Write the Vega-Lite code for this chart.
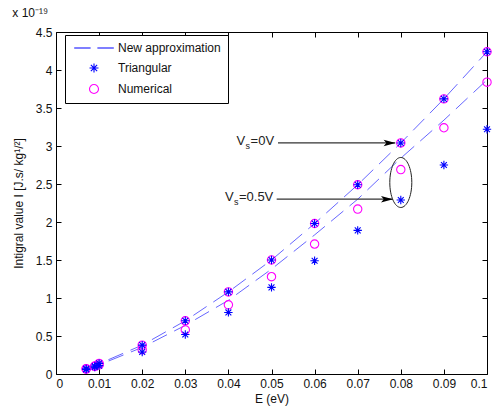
{
  "$schema": "https://vega.github.io/schema/vega-lite/v6.json",
  "width": 431,
  "height": 342,
  "autosize": {"type": "none"},
  "padding": {"left": 56, "top": 32, "right": 8, "bottom": 39},
  "background": "white",
  "config": {
    "font": "Liberation Sans",
    "view": {"stroke": "black", "strokeWidth": 1},
    "axis": {"labelFont": "Liberation Sans", "labelFontSize": 12, "labelColor": "#111", "titleFont": "Liberation Sans", "titleFontSize": 12, "titleFontWeight": "normal", "titleColor": "#111", "grid": false, "domain": false, "tickColor": "black", "tickSize": -5, "labelPadding": 9},
    "legend": {"title": null, "orient": "none", "legendX": 9, "legendY": 3, "strokeColor": "black", "fillColor": "white", "padding": 7, "labelFontSize": 12, "labelFont": "Liberation Sans", "labelColor": "#111", "symbolSize": 81, "symbolStrokeWidth": 1.1, "symbolOpacity": 1, "symbolOffset": 16, "labelOffset": 18, "rowPadding": 7, "cornerRadius": 0}
  },
  "title": {"text": "x 10⁻¹⁹", "anchor": "start", "fontSize": 12, "fontWeight": "normal", "font": "Liberation Sans", "color": "#111", "offset": 6},
  "datasets": {
    "points": [
      {"E": 0.007, "I": 0.07, "series": "Triangular"}, {"E": 0.007, "I": 0.07, "series": "Numerical"},
      {"E": 0.007, "I": 0.06, "series": "Triangular"}, {"E": 0.007, "I": 0.065, "series": "Numerical"},
      {"E": 0.009, "I": 0.105, "series": "Triangular"}, {"E": 0.009, "I": 0.105, "series": "Numerical"},
      {"E": 0.009, "I": 0.09, "series": "Triangular"}, {"E": 0.009, "I": 0.1, "series": "Numerical"},
      {"E": 0.01, "I": 0.14, "series": "Triangular"}, {"E": 0.01, "I": 0.14, "series": "Numerical"},
      {"E": 0.01, "I": 0.11, "series": "Triangular"}, {"E": 0.01, "I": 0.12, "series": "Numerical"},
      {"E": 0.02, "I": 0.38, "series": "Triangular"}, {"E": 0.02, "I": 0.38, "series": "Numerical"},
      {"E": 0.02, "I": 0.29, "series": "Triangular"}, {"E": 0.02, "I": 0.32, "series": "Numerical"},
      {"E": 0.03, "I": 0.70, "series": "Triangular"}, {"E": 0.03, "I": 0.70, "series": "Numerical"},
      {"E": 0.03, "I": 0.52, "series": "Triangular"}, {"E": 0.03, "I": 0.58, "series": "Numerical"},
      {"E": 0.04, "I": 1.08, "series": "Triangular"}, {"E": 0.04, "I": 1.08, "series": "Numerical"},
      {"E": 0.04, "I": 0.81, "series": "Triangular"}, {"E": 0.04, "I": 0.91, "series": "Numerical"},
      {"E": 0.05, "I": 1.50, "series": "Triangular"}, {"E": 0.05, "I": 1.50, "series": "Numerical"},
      {"E": 0.05, "I": 1.14, "series": "Triangular"}, {"E": 0.05, "I": 1.28, "series": "Numerical"},
      {"E": 0.06, "I": 1.98, "series": "Triangular"}, {"E": 0.06, "I": 1.98, "series": "Numerical"},
      {"E": 0.06, "I": 1.49, "series": "Triangular"}, {"E": 0.06, "I": 1.71, "series": "Numerical"},
      {"E": 0.07, "I": 2.49, "series": "Triangular"}, {"E": 0.07, "I": 2.49, "series": "Numerical"},
      {"E": 0.07, "I": 1.89, "series": "Triangular"}, {"E": 0.07, "I": 2.17, "series": "Numerical"},
      {"E": 0.08, "I": 3.04, "series": "Triangular"}, {"E": 0.08, "I": 3.04, "series": "Numerical"},
      {"E": 0.08, "I": 2.29, "series": "Triangular"}, {"E": 0.08, "I": 2.69, "series": "Numerical"},
      {"E": 0.09, "I": 3.62, "series": "Triangular"}, {"E": 0.09, "I": 3.62, "series": "Numerical"},
      {"E": 0.09, "I": 2.75, "series": "Triangular"}, {"E": 0.09, "I": 3.24, "series": "Numerical"},
      {"E": 0.1, "I": 4.24, "series": "Triangular"}, {"E": 0.1, "I": 4.24, "series": "Numerical"},
      {"E": 0.1, "I": 3.22, "series": "Triangular"}, {"E": 0.1, "I": 3.84, "series": "Numerical"}
    ],
    "lines": [
      {"E": 0.007, "I": 0.07, "curve": "Vs0", "series": "New approximation"},
      {"E": 0.009, "I": 0.105, "curve": "Vs0", "series": "New approximation"},
      {"E": 0.01, "I": 0.135, "curve": "Vs0", "series": "New approximation"},
      {"E": 0.02, "I": 0.38, "curve": "Vs0", "series": "New approximation"},
      {"E": 0.03, "I": 0.70, "curve": "Vs0", "series": "New approximation"},
      {"E": 0.04, "I": 1.08, "curve": "Vs0", "series": "New approximation"},
      {"E": 0.05, "I": 1.50, "curve": "Vs0", "series": "New approximation"},
      {"E": 0.06, "I": 1.98, "curve": "Vs0", "series": "New approximation"},
      {"E": 0.07, "I": 2.49, "curve": "Vs0", "series": "New approximation"},
      {"E": 0.08, "I": 3.04, "curve": "Vs0", "series": "New approximation"},
      {"E": 0.09, "I": 3.62, "curve": "Vs0", "series": "New approximation"},
      {"E": 0.1, "I": 4.24, "curve": "Vs0", "series": "New approximation"},
      {"E": 0.007, "I": 0.065, "curve": "Vs05", "series": "New approximation"},
      {"E": 0.009, "I": 0.095, "curve": "Vs05", "series": "New approximation"},
      {"E": 0.01, "I": 0.12, "curve": "Vs05", "series": "New approximation"},
      {"E": 0.02, "I": 0.35, "curve": "Vs05", "series": "New approximation"},
      {"E": 0.03, "I": 0.64, "curve": "Vs05", "series": "New approximation"},
      {"E": 0.04, "I": 0.97, "curve": "Vs05", "series": "New approximation"},
      {"E": 0.05, "I": 1.38, "curve": "Vs05", "series": "New approximation"},
      {"E": 0.06, "I": 1.83, "curve": "Vs05", "series": "New approximation"},
      {"E": 0.07, "I": 2.30, "curve": "Vs05", "series": "New approximation"},
      {"E": 0.08, "I": 2.84, "curve": "Vs05", "series": "New approximation"},
      {"E": 0.09, "I": 3.34, "curve": "Vs05", "series": "New approximation"},
      {"E": 0.1, "I": 3.87, "curve": "Vs05", "series": "New approximation"}
    ],
    "notes": [
      {"E0": 0.0419, "E1": 0.0515, "E2": 0.0787, "Ehead": 0.0774, "I": 3.04, "v": "V", "s": "s", "rest": "=0V"},
      {"E0": 0.0392, "E1": 0.0512, "E2": 0.0781, "Ehead": 0.0768, "I": 2.30, "v": "V", "s": "s", "rest": "=0.5V"}
    ]
  },
  "layer": [
    {
      "data": {"name": "lines"},
      "mark": {"type": "line", "strokeWidth": 1, "strokeDash": [16, 8], "opacity": 0.6},
      "encoding": {
        "x": {"field": "E", "type": "quantitative", "scale": {"domain": [0, 0.1], "nice": false}, "axis": {"title": "E (eV)", "values": [0, 0.01, 0.02, 0.03, 0.04, 0.05, 0.06, 0.07, 0.08, 0.09, 0.1], "format": "~g", "titlePadding": 4}},
        "y": {"field": "I", "type": "quantitative", "scale": {"domain": [0, 4.5], "nice": false}, "axis": {"title": "Intigral value I  [J.s/ kg¹/²]", "values": [0, 0.5, 1, 1.5, 2, 2.5, 3, 3.5, 4, 4.5], "format": "~g", "titlePadding": 10}},
        "detail": {"field": "curve"},
        "color": {"field": "series", "type": "nominal", "scale": {"domain": ["New approximation", "Triangular", "Numerical"], "range": ["#0000ff", "#0000ff", "#ff00ff"]}}
      }
    },
    {
      "data": {"name": "points"},
      "mark": {"type": "point", "filled": false, "strokeWidth": 1.1, "size": 70, "opacity": 1},
      "encoding": {
        "x": {"field": "E", "type": "quantitative", "axis": null},
        "y": {"field": "I", "type": "quantitative", "axis": null},
        "order": {"field": "series", "sort": "ascending"},
        "color": {"field": "series", "type": "nominal", "scale": {"domain": ["New approximation", "Triangular", "Numerical"], "range": ["#0000ff", "#0000ff", "#ff00ff"]}},
        "shape": {"field": "series", "type": "nominal", "scale": {"domain": ["New approximation", "Triangular", "Numerical"], "range": ["M-4.4,0L-0.75,0M0.75,0L4.4,0", "M-1,0L1,0M0,-1L0,1M-0.7,-0.7L0.7,0.7M-0.7,0.7L0.7,-0.7", "circle"]}}
      }
    },
    {
      "data": {"name": "notes"},
      "mark": {"type": "rule", "color": "#333", "strokeWidth": 1.3},
      "encoding": {
        "x": {"field": "E1", "type": "quantitative", "axis": null},
        "x2": {"field": "E2"},
        "y": {"field": "I", "type": "quantitative", "axis": null}
      }
    },
    {
      "data": {"name": "notes"},
      "mark": {"type": "point", "shape": "M-1,-0.55L1,0L-1,0.55L-0.55,0Z", "size": 144, "filled": true, "color": "black", "opacity": 1, "strokeWidth": 0},
      "encoding": {
        "x": {"field": "Ehead", "type": "quantitative", "axis": null},
        "y": {"field": "I", "type": "quantitative", "axis": null}
      }
    },
    {
      "data": {"name": "notes"},
      "mark": {"type": "text", "align": "left", "baseline": "middle", "fontSize": 13, "font": "Liberation Sans", "color": "#222", "dy": -2},
      "encoding": {
        "x": {"field": "E0", "type": "quantitative", "axis": null},
        "y": {"field": "I", "type": "quantitative", "axis": null},
        "text": {"field": "v"}
      }
    },
    {
      "data": {"name": "notes"},
      "mark": {"type": "text", "align": "left", "baseline": "middle", "fontSize": 9, "font": "Liberation Sans", "color": "#222", "dx": 9, "dy": 3},
      "encoding": {
        "x": {"field": "E0", "type": "quantitative", "axis": null},
        "y": {"field": "I", "type": "quantitative", "axis": null},
        "text": {"field": "s"}
      }
    },
    {
      "data": {"name": "notes"},
      "mark": {"type": "text", "align": "left", "baseline": "middle", "fontSize": 13, "font": "Liberation Sans", "color": "#222", "dx": 14, "dy": -2},
      "encoding": {
        "x": {"field": "E0", "type": "quantitative", "axis": null},
        "y": {"field": "I", "type": "quantitative", "axis": null},
        "text": {"field": "rest"}
      }
    },
    {
      "data": {"values": [{"E": 0.08, "I": 2.52}]},
      "mark": {"type": "point", "shape": "M0,-1A0.44,1,0,1,1,0,1A0.44,1,0,1,1,0,-1Z", "size": 2500, "filled": false, "color": "#222", "strokeWidth": 1, "opacity": 1},
      "encoding": {
        "x": {"field": "E", "type": "quantitative", "axis": {"orient": "top", "labels": false, "title": null, "values": [0, 0.01, 0.02, 0.03, 0.04, 0.05, 0.06, 0.07, 0.08, 0.09, 0.1]}},
        "y": {"field": "I", "type": "quantitative", "axis": {"orient": "right", "labels": false, "title": null, "values": [0, 0.5, 1, 1.5, 2, 2.5, 3, 3.5, 4, 4.5]}}
      }
    }
  ],
  "resolve": {"axis": {"x": "independent", "y": "independent"}}
}
